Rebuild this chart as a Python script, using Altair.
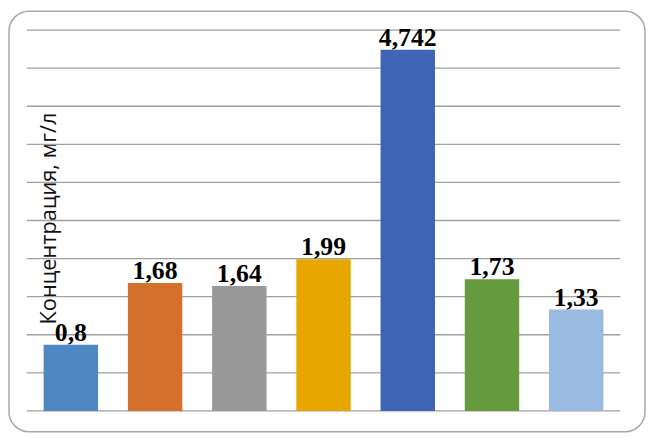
import altair as alt
import pandas as pd

categories = ["1", "2", "3", "4", "5", "6", "7"]
values = [0.87, 1.68, 1.64, 1.99, 4.742, 1.73, 1.33]
labels = ["0,8", "1,68", "1,64", "1,99", "4,742", "1,73", "1,33"]
colors = ["#4D88C2", "#D5702C", "#989898", "#E7A700", "#3E64B5", "#659A3F", "#9ABAE2"]
y_ticks = [0, 0.5, 1, 1.5, 2, 2.5, 3, 3.5, 4, 4.5, 5]

df = pd.DataFrame({"cat": categories, "value": values, "label": labels})
grid_df = pd.DataFrame({"g": y_ticks})

yscale = alt.Scale(domain=[0, 5])
yaxis = alt.Axis(title="Концентрация, мг/л", labels=False,
                 ticks=False, domain=False, grid=False,
                 titleFont="Open Sans", titleFontSize=22,
                 titleFontWeight="normal", titleColor="#111111",
                 titleAngle=270, titleX=29, titleY=190, titleAlign="center",
                 titleBaseline="alphabetic")

x = alt.X("cat:N", sort=categories,
          scale=alt.Scale(paddingInner=0.354, paddingOuter=0.2),
          axis=alt.Axis(title=None, labels=False, ticks=False, domain=False))

border = alt.Chart(pd.DataFrame({"a": [0]})).mark_rect(
    fill=None, stroke="#A8A8A8", strokeWidth=1.5, cornerRadius=20
).encode(x=alt.value(-18), x2=alt.value(625), y=alt.value(-19), y2=alt.value(406))

grid = alt.Chart(grid_df).mark_rule(color="#A0A0A0", strokeWidth=1.3).encode(
    y=alt.Y("g:Q", scale=yscale, axis=yaxis)
)

bars = alt.Chart(df).mark_bar().encode(
    x=x, y=alt.Y("value:Q", scale=yscale, axis=yaxis),
    color=alt.Color("cat:N", sort=categories,
                    scale=alt.Scale(domain=categories, range=colors), legend=None)
)

text = alt.Chart(df).mark_text(
    font="Liberation Serif", fontWeight="bold", fontSize=26, color="#000000",
    baseline="alphabetic", dy=-4
).encode(x=alt.X("cat:N", sort=categories), y=alt.Y("value:Q", scale=yscale, axis=yaxis),
         text="label:N")

chart = alt.layer(border, grid, bars, text).properties(
    width=600, height=385,
    autosize=alt.AutoSizeParams(type="none"),
    padding={"left": 19, "top": 20, "right": 26, "bottom": 22},
    background="white"
).configure_view(stroke=None)

chart.save("out.html", embed_options={"renderer": "svg", "actions": False})
